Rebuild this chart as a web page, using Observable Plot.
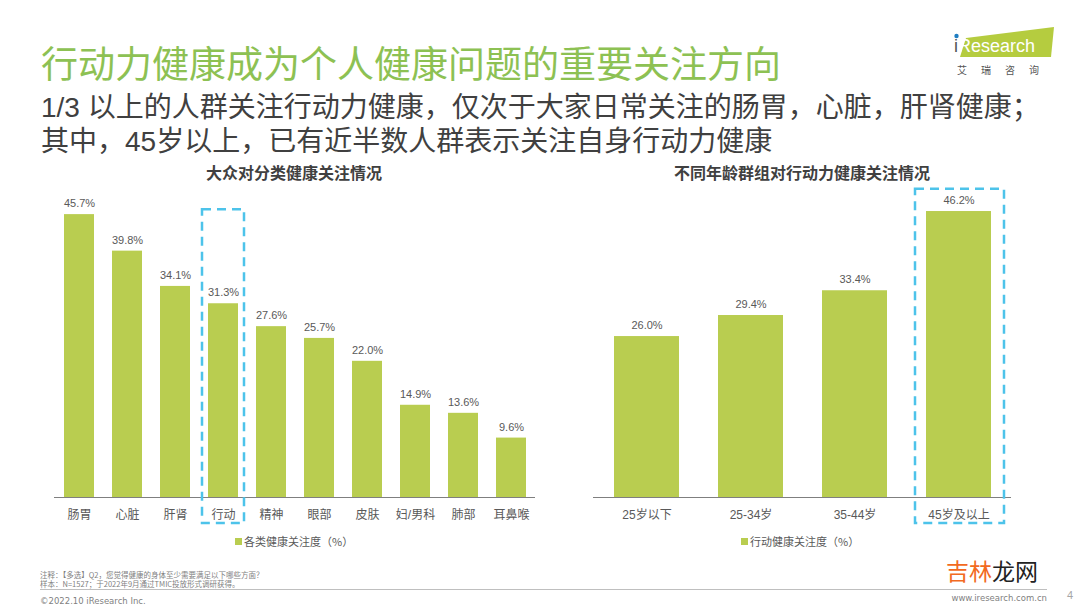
<!DOCTYPE html>
<html>
<head>
<meta charset="utf-8">
<script src="https://cdn.jsdelivr.net/npm/d3@7"></script>
<script src="https://cdn.jsdelivr.net/npm/@observablehq/plot@0.6"></script>
<style>
  html, body { margin: 0; padding: 0; background: #fff; }
  #page { position: relative; width: 1080px; height: 610px; overflow: hidden; background: #fff;
          font-family: "Liberation Sans", "Noto Sans CJK SC", sans-serif; }
  .abs { position: absolute; white-space: nowrap; }
  #title { left: 41px; top: 42px; font-size: 37px; line-height: 40px; color: #8dc153; font-family: "Noto Sans CJK SC", sans-serif; }
  #sub { left: 41px; top: 91px; font-size: 28px; line-height: 34px; color: #404040; }
  .ctitle { font-size: 16px; font-weight: bold; color: #404040; line-height: 20px; transform: translateX(-50%); font-family: "Noto Sans CJK SC", sans-serif; }
  .legend { font-size: 11px; line-height: 14px; color: #595959; font-family: "Noto Sans CJK SC", sans-serif; }
  .legend .sw { display: inline-block; width: 7px; height: 7px; background: #b9cd50; margin-right: 2px; vertical-align: 1px; }
  .note { font-size: 7.5px; line-height: 9px; color: #7f7f7f; font-family: "Noto Sans CJK SC", sans-serif; }
  #plotL, #plotR { position: absolute; top: 150px; }
  #plotL { left: 0; }
  #plotR { left: 560px; }
</style>
</head>
<body>
<div id="page">
  <div id="title" class="abs">行动力健康成为个人健康问题的重要关注方向</div>
  <div id="sub" class="abs">1/3 以上的人群关注行动力健康，仅次于大家日常关注的肠胃，心脏，肝肾健康；<br>其中，45岁以上，已有近半数人群表示关注自身行动力健康</div>

  <svg class="abs" style="left:940px;top:20px" width="125" height="60" viewBox="940 20 125 60">
    <polygon points="960,57 966,38 1054,27 1051,57" fill="#b5cc3f"/>
    <text x="954" y="52" font-family="Liberation Sans" font-size="18" fill="#fff"><tspan fill="#555">i</tspan>Research</text>
    <circle cx="956.5" cy="36" r="2.2" fill="#1f7ec2"/>
    <text x="957" y="74" font-family="Noto Sans CJK SC" font-size="10" fill="#555" letter-spacing="14">艾瑞咨询</text>
  </svg>

  <div class="abs ctitle" style="left:294px;top:162px">大众对分类健康关注情况</div>
  <div class="abs ctitle" style="left:802px;top:162px">不同年龄群组对行动力健康关注情况</div>

  <div id="plotL"></div>
  <div id="plotR"></div>

  <div class="abs legend" style="left:235px;top:534px"><span class="sw"></span>各类健康关注度（%）</div>
  <div class="abs legend" style="left:741px;top:534px"><span class="sw"></span>行动健康关注度（%）</div>

  <div class="abs note" style="left:40px;top:570px">注释：【多选】Q2，您觉得健康的身体至少需要满足以下哪些方面？<br>样本：N=1527；于2022年9月通过TMIC投放形式调研获得。</div>
  <div class="abs" style="left:40px;top:589px;width:1007px;height:1px;background:#bfbfbf"></div>
  <div class="abs note" style="left:40px;top:597px;font-size:8.5px;font-family:'DejaVu Sans','Liberation Sans'">©2022.10 iResearch Inc.</div>
  <div class="abs note" style="right:33px;top:594px;font-size:8.5px;font-family:'DejaVu Sans','Liberation Sans'">www.iresearch.com.cn</div>
  <div class="abs" style="left:1067px;top:589px;font-size:11px;color:#a6a6a6">4</div>
  <div class="abs" style="left:946px;top:556px;font-size:23px;line-height:28px;font-family:'Noto Sans CJK SC'"><span style="color:#f26a21">吉林</span><span style="color:#222">龙网</span></div>
</div>

<script>
// ---- data ----
const categories = ["肠胃", "心脏", "肝肾", "行动", "精神", "眼部", "皮肤", "妇/男科", "肺部", "耳鼻喉"];
const categoryValues = [45.7, 39.8, 34.1, 31.3, 27.6, 25.7, 22.0, 14.9, 13.6, 9.6];
const ageGroups = ["25岁以下", "25-34岁", "35-44岁", "45岁及以上"];
const ageValues = [26.0, 29.4, 33.4, 46.2];
const highlightLeft = ["行动"];
const highlightRight = ["45岁及以上"];

const barColor = "#b9cd50";
const dashColor = "#4dc3ea";
const font = "'Liberation Sans', 'Noto Sans CJK SC', sans-serif";

const left = categories.map((c, i) => ({cat: c, val: categoryValues[i]}));
const right = ageGroups.map((c, i) => ({cat: c, val: ageValues[i]}));

function chart(data, domain, opts) {
  return Plot.plot({
    width: opts.width,
    height: 400,
    marginLeft: opts.ml,
    marginRight: opts.mr,
    marginTop: 37.5,
    marginBottom: 53,
    x: {domain, paddingInner: opts.pi, paddingOuter: opts.pi / 2, axis: null},
    y: {domain: [0, 50], axis: null},
    style: {fontFamily: font, overflow: "visible", background: "transparent"},
    marks: [
      Plot.barY(data, {x: "cat", y: "val", fill: barColor}),
      Plot.text(data, {x: "cat", y: "val", text: d => d.val.toFixed(1) + "%", dy: -11, fontSize: 11, fill: "#595959"}),
      Plot.ruleY([0], {stroke: "#7f7f7f", strokeWidth: 1.2}),
      Plot.axisX({tickSize: 0, tickPadding: 13, fontSize: 12, fill: "#595959", label: null}),
      Plot.barY(opts.hl, {x: d => d, y1: -4.2, y2: opts.top, fill: "none", stroke: dashColor,
        strokeWidth: 2.5, strokeDasharray: "9,6", insetLeft: opts.il, insetRight: opts.ir})
    ]
  });
}

document.getElementById("plotL").appendChild(
  chart(left, categories, {width: 560, ml: 54, mr: 25, pi: 0.375, hl: highlightLeft, top: 46.5, il: -6, ir: -6})
);
document.getElementById("plotR").appendChild(
  chart(right, ageGroups, {width: 520, ml: 33, mr: 69, pi: 0.378, hl: highlightRight, top: 49.8, il: -11, ir: -13})
);
</script>
</body>
</html>
